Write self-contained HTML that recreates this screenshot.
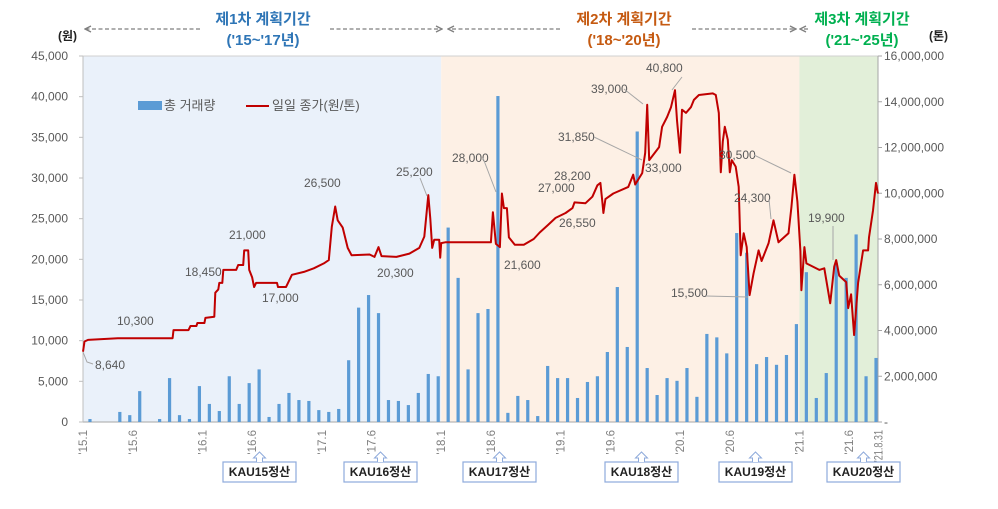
<!DOCTYPE html>
<html><head><meta charset="utf-8">
<style>
body{margin:0;background:#fff;}
svg text{font-family:"Liberation Sans","Noto Sans CJK KR",sans-serif;}
</style></head>
<body>
<svg id="chart" width="998" height="504" viewBox="0 0 998 504" xmlns="http://www.w3.org/2000/svg">
<defs>
<marker id="al" viewBox="0 0 8 8" refX="7" refY="4" markerWidth="8" markerHeight="8" markerUnits="userSpaceOnUse" orient="auto"><path d="M1,1 L7,4 L1,7" fill="none" stroke="#7f7f7f" stroke-width="1.4" stroke-dasharray="none"/></marker>
</defs>
<g id="bg"></g>
<g id="hdr" font-size="15" font-weight="bold" text-anchor="middle">
<text x="263" y="24" fill="#2e75b6">제1차 계획기간</text>
<text x="263" y="45" fill="#2e75b6">('15~'17년)</text>
<text x="624" y="24" fill="#c55a11">제2차 계획기간</text>
<text x="624" y="45" fill="#c55a11">('18~'20년)</text>
<text x="862" y="24" fill="#00b050">제3차 계획기간</text>
<text x="862" y="45" fill="#00b050">('21~'25년)</text>
</g>
<g stroke="#7f7f7f" stroke-width="1.3" stroke-dasharray="4,2.5" fill="none">
<line x1="200" y1="29" x2="85" y2="29" marker-end="url(#al)"/>
<line x1="330" y1="29" x2="442" y2="29" marker-end="url(#al)"/>
<line x1="560" y1="29" x2="448" y2="29" marker-end="url(#al)"/>
<line x1="692" y1="29" x2="796" y2="29" marker-end="url(#al)"/>
<line x1="808" y1="29" x2="800" y2="29" marker-end="url(#al)"/>
</g>
<text x="58" y="40" font-size="12" font-weight="bold" fill="#222">(원)</text>
<text x="929" y="40" font-size="12" font-weight="bold" fill="#222">(톤)</text>
<g id="axes"></g>
<g id="bars"></g>
<g id="line"></g>
<g id="ann" font-size="12" fill="#595959"></g>
<g>
<rect x="138" y="101" width="24" height="9" fill="#5b9bd5"/>
<text x="164" y="110" font-size="13" fill="#595959">총 거래량</text>
<line x1="246" y1="106" x2="269" y2="106" stroke="#c00000" stroke-width="2"/>
<text x="272" y="110" font-size="13" fill="#595959">일일 종가(원/톤)</text>
</g>
<g id="kau"></g>
</svg>
<script>
const NS="http://www.w3.org/2000/svg";
const leftTicks=[0,5000,10000,15000,20000,25000,30000,35000,40000,45000];
const rightTicks=[0,2000000,4000000,6000000,8000000,10000000,12000000,14000000,16000000];
const xTickLabels=["'15.1","'15.6","'16.1","'16.6","'17.1","'17.6","'18.1","'18.6","'19.1","'19.6","'20.1","'20.6","'21.1","'21.6","'21.8.31"];
const xTickMonths=[0,5,12,17,24,29,36,41,48,53,60,65,72,77,79.95];
// monthly total volume (tons), Jan 2015 .. Aug 2021
const volume=[130000,0,0,440000,300000,1350000,0,130000,1920000,300000,130000,1570000,
790000,480000,2000000,790000,1700000,2300000,220000,790000,1270000,960000,920000,520000,
440000,570000,2700000,5000000,5550000,4760000,960000,920000,740000,1270000,2100000,2000000,
8500000,6300000,2300000,4760000,4940000,14250000,400000,1140000,960000,260000,2450000,1920000,
1920000,1050000,1750000,2000000,3060000,5900000,3280000,12700000,2360000,1180000,1920000,1800000,
2360000,1100000,3850000,3700000,3000000,8260000,7400000,2530000,2840000,2500000,2930000,4280000,
6550000,1050000,2140000,6950000,6300000,8200000,2000000,2800000];
// daily closing price (won/ton): time in months since Jan 2015, price
const priceT=[0,0.15,0.5,3.5,9.0,9.1,10.6,10.8,11.4,11.5,12.2,12.3,13.2,13.3,13.6,13.7,14.0,14.1,15.4,15.6,16.1,16.2,16.6,16.7,17.0,17.2,17.4,19.5,19.6,20.4,20.6,21.0,22.2,23.2,24.2,24.7,25.0,25.35,25.6,26.1,26.6,27.0,28.8,29.3,29.7,30.0,31.5,32.8,33.8,34.3,34.7,34.9,35.1,35.3,35.8,35.9,36.0,36.4,
41.0,41.2,41.5,41.9,42.1,42.3,42.6,42.8,43.4,44.3,45.3,45.9,46.7,47.5,48.5,49.2,49.4,50.5,51.2,51.7,52.0,52.2,52.3,52.5,53.3,54.8,55.3,55.5,56.2,56.5,56.7,56.9,57.9,58.2,58.7,59.1,59.5,59.7,60.0,60.2,60.6,61.1,61.4,61.9,63.3,63.6,63.9,64.1,64.3,64.5,64.8,65.0,65.2,65.6,65.9,66.1,66.4,66.7,67.0,67.4,67.9,68.2,68.9,69.4,69.9,70.9,71.2,71.5,71.8,72.1,72.2,72.5,72.7,74.0,74.5,75.1,75.5,75.7,76.0,76.7,76.9,77.2,77.5,77.9,78.4,78.9,79.0,79.4,79.7,79.9];
const priceV=[8640,9900,10100,10300,10300,11300,11300,11800,11800,12170,12170,12800,12950,15900,16300,17100,17100,18700,18700,19300,19300,21100,21100,18700,17800,16600,17100,17100,16600,16600,17100,18100,18450,18900,19500,19900,24000,26500,24800,23900,21400,20500,20600,20300,21500,20400,20300,20700,21400,22800,27900,25000,21400,22400,22400,20200,22000,22100,
22100,25800,21900,21500,28100,26300,26300,22700,21800,21800,22500,23300,24200,25100,25700,26300,27000,26900,27700,29100,29400,27000,25700,27400,28100,28900,30400,29200,30600,33100,39000,32200,33800,36300,37500,38700,40800,37100,33100,38400,38000,38700,39600,40200,40400,40200,38000,30700,34500,36300,34700,30700,32200,31400,28900,20500,23200,21500,15600,18300,21100,19800,22000,24800,22100,23200,26400,30400,27100,21000,16200,21500,19500,18700,18900,14600,19100,19900,18000,17200,14000,15700,10700,17100,21100,21100,22700,26000,29400,28100];
const annText=["8,640","10,300","18,450","21,000","17,000","26,500","20,300","25,200","28,000","21,600","27,000","28,200","26,550","31,850","33,000","39,000","40,800","30,500","24,300","15,500","19,900"];
const kauLabels=["KAU15정산","KAU16정산","KAU17정산","KAU18정산","KAU19정산","KAU20정산"];

const X0=83,X1=878,YT=56,YB=422,PM=9.95;
const x=t=>X0+t*PM;
const yL=v=>YB-(v/45000)*(YB-YT);
const yR=v=>YB-(v/16000000)*(YB-YT);
function mk(tag,attrs,parent,txt){const e=document.createElementNS(NS,tag);for(const k in attrs)e.setAttribute(k,attrs[k]);if(txt!==undefined)e.textContent=txt;parent.appendChild(e);return e;}

const bg=document.getElementById('bg');
let r;
r=mk('rect',{x:X0,y:YT,width:x(36)-X0,height:YB-YT,fill:'#eaf1fa'},bg);


r=mk('rect',{x:x(36),y:YT,width:x(72)-x(36),height:YB-YT,fill:'#fdf0e5'},bg);


r=mk('rect',{x:x(72),y:YT,width:X1-x(72),height:YB-YT,fill:'#e2efd9'},bg);



const ax=document.getElementById('axes');
let l;
l=mk('line',{x1:X0,y1:YT,x2:X1,y2:YT,stroke:'#d0d0d0'},ax);


l=mk('line',{x1:X0,y1:YB,x2:X1,y2:YB,stroke:'#a6a6a6'},ax);


l=mk('line',{x1:X0,y1:YT,x2:X0,y2:YB,stroke:'#bfbfbf'},ax);


l=mk('line',{x1:X1,y1:YT,x2:X1,y2:YB,stroke:'#a6a6a6'},ax);


leftTicks.forEach(v=>{const t=mk('text',{x:68,y:yL(v)+4,'text-anchor':'end','font-size':12,fill:'#595959'},ax,v.toLocaleString('en-US'));


const k=mk('line',{x1:X0-4,y1:yL(v),x2:X0,y2:yL(v),stroke:'#bfbfbf'},ax);

});
rightTicks.forEach(v=>{const t=mk('text',{x:884,y:yR(v)+4,'font-size':12,fill:'#595959'},ax,v===0?'-':v.toLocaleString('en-US'));


const k=mk('line',{x1:X1,y1:yR(v),x2:X1+4,y2:yR(v),stroke:'#a6a6a6'},ax);

});
xTickLabels.forEach((s,i)=>{const xx=x(xTickMonths[i]);
const attrs={transform:`translate(${xx+4},${YB+8}) rotate(-90)`,'text-anchor':'end','font-size':11.5,fill:'#7f7f7f'};
if(i===xTickLabels.length-1){attrs.textLength=32;attrs.lengthAdjust='spacingAndGlyphs';}
const t=mk('text',attrs,ax,s);

});

const bars=document.getElementById('bars');
volume.forEach((v,m)=>{if(v<=0)return;const cx=x(m+0.7);
const b=mk('rect',{x:cx-1.6,y:yR(v),width:3.2,height:YB-yR(v),fill:'#5b9bd5'},bars);

});

const pts=priceT.map((t,i)=>x(t).toFixed(1)+','+yL(priceV[i]).toFixed(1)).join(' ');
const pl=mk('polyline',{points:pts,fill:'none',stroke:'#c00000','stroke-width':2,'stroke-linejoin':'round'},document.getElementById('line'));



const ann=document.getElementById('ann');
const annPos=[[95,369,[[83,352],[87,362],[93,364]]],[117,325],[185,276],[229,239],[262,302],[304,187],[377,277],[396,176,[[420,178],[427,196]]],[452,162,[[483,158],[496,192]]],[504,269],[538,192],[554,180],[559,227],[558,141,[[594,137],[642,160]]],[645,172],[591,93,[[624,89],[643,104]]],[646,72,[[682,77],[672,90]]],[719,159,[[754,155],[791,173]]],[734,202,[[769,199],[771,219]]],[671,297,[[706,296],[748,297]]],[808,222,[[833,226],[833,260]]]];
annPos.forEach((p,i)=>{const t=mk('text',{x:p[0],y:p[1]},ann,annText[i]);


if(p[2]){const pl2=mk('polyline',{points:p[2].map(q=>q.join(',')).join(' '),fill:'none',stroke:'#a6a6a6','stroke-width':1},ann);

}});

const kau=document.getElementById('kau');
const kauX=[223,344,463,605,719,827];
kauLabels.forEach((s,i)=>{const bx=kauX[i],cx=bx+36.5;
const g=mk('g',{},kau);


mk('rect',{x:bx,y:462,width:73,height:20,fill:'#fff',stroke:'#8eaadb','stroke-width':1.2},g);
mk('path',{d:`M${cx-3},462 L${cx-3},458 L${cx-6},458 L${cx},452 L${cx+6},458 L${cx+3},458 L${cx+3},462`,fill:'#fff',stroke:'#8eaadb','stroke-width':1},g);
mk('text',{x:cx,y:476,'text-anchor':'middle','font-size':12,'font-weight':'bold',fill:'#222'},g,s);});
</script>
</body></html>
